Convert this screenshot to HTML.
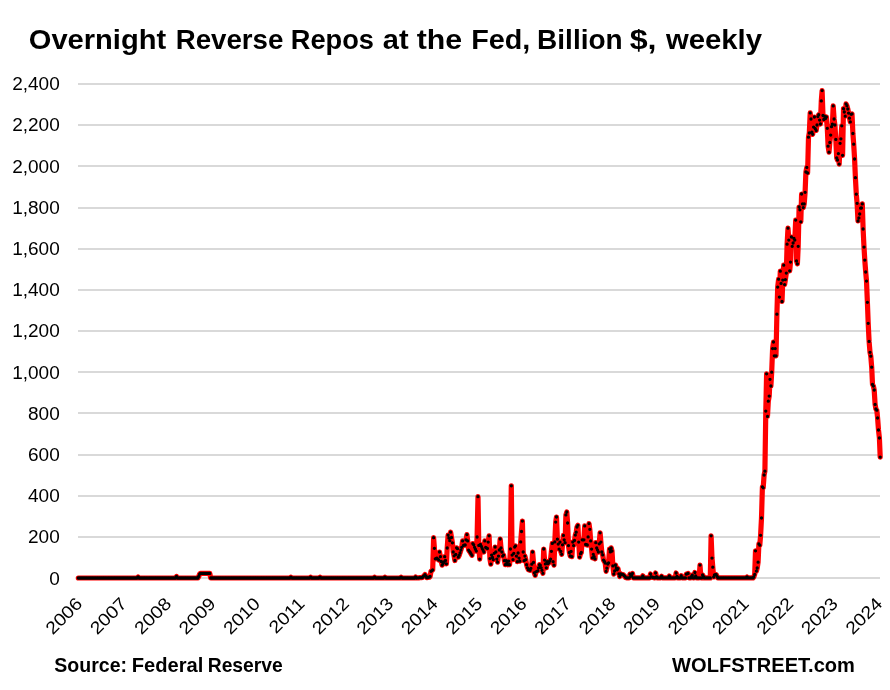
<!DOCTYPE html>
<html lang="en"><head><meta charset="utf-8"><title>Overnight Reverse Repos at the Fed</title>
<style>
html,body{margin:0;padding:0;background:#fff}
svg{display:block}
text{font-family:"Liberation Sans",Arial,sans-serif;fill:#000}
.t{font-weight:bold;font-size:27px}
.b{font-weight:bold;font-size:19.3px}
.y text{font-size:17.6px;text-anchor:end}
.x text{font-size:17.6px;text-anchor:end}
.g rect{fill:#d9d9d9}
</style></head><body>
<svg width="890" height="690" viewBox="0 0 890 690">
<rect width="890" height="690" fill="#fff"/>
<text class="t" y="48.8"><tspan x="28.84" textLength="137.30" lengthAdjust="spacingAndGlyphs">Overnight</tspan> <tspan x="175.70" textLength="107.70" lengthAdjust="spacingAndGlyphs">Reverse</tspan> <tspan x="290.82" textLength="83.20" lengthAdjust="spacingAndGlyphs">Repos</tspan> <tspan x="382.86" textLength="25.78" lengthAdjust="spacingAndGlyphs">at</tspan> <tspan x="416.74" textLength="45.42" lengthAdjust="spacingAndGlyphs">the</tspan> <tspan x="471.20" textLength="59.10" lengthAdjust="spacingAndGlyphs">Fed,</tspan> <tspan x="537.08" textLength="85.60" lengthAdjust="spacingAndGlyphs">Billion</tspan> <tspan x="629.72" textLength="26.84" lengthAdjust="spacingAndGlyphs">$,</tspan> <tspan x="666.00" textLength="96.00" lengthAdjust="spacingAndGlyphs">weekly</tspan></text>
<g class="g"><rect x="78" y="83" width="802" height="2"/><rect x="78" y="124" width="802" height="2"/><rect x="78" y="165" width="802" height="2"/><rect x="78" y="207" width="802" height="2"/><rect x="78" y="248" width="802" height="2"/><rect x="78" y="289" width="802" height="2"/><rect x="78" y="330" width="802" height="2"/><rect x="78" y="371" width="802" height="2"/><rect x="78" y="412" width="802" height="2"/><rect x="78" y="454" width="802" height="2"/><rect x="78" y="495" width="802" height="2"/><rect x="78" y="536" width="802" height="2"/><rect x="78" y="577" width="802" height="2"/></g>
<g class="y"><text transform="translate(59.70 90.30) scale(1.080 1)">2,400</text><text transform="translate(59.70 131.48) scale(1.080 1)">2,200</text><text transform="translate(59.70 172.67) scale(1.080 1)">2,000</text><text transform="translate(59.70 213.85) scale(1.080 1)">1,800</text><text transform="translate(59.70 255.03) scale(1.080 1)">1,600</text><text transform="translate(59.70 296.22) scale(1.080 1)">1,400</text><text transform="translate(59.70 337.40) scale(1.080 1)">1,200</text><text transform="translate(59.70 378.58) scale(1.080 1)">1,000</text><text transform="translate(59.70 419.77) scale(1.080 1)">800</text><text transform="translate(59.70 460.95) scale(1.080 1)">600</text><text transform="translate(59.70 502.13) scale(1.080 1)">400</text><text transform="translate(59.70 543.32) scale(1.080 1)">200</text><text transform="translate(59.70 584.50) scale(1.080 1)">0</text></g>
<g class="x"><text transform="translate(83.45 604.80) rotate(-45) scale(1.110 1)">2006</text><text transform="translate(127.89 604.80) rotate(-45) scale(1.110 1)">2007</text><text transform="translate(172.33 604.80) rotate(-45) scale(1.110 1)">2008</text><text transform="translate(216.77 604.80) rotate(-45) scale(1.110 1)">2009</text><text transform="translate(261.21 604.80) rotate(-45) scale(1.110 1)">2010</text><text transform="translate(305.65 604.80) rotate(-45) scale(1.110 1)">2011</text><text transform="translate(350.09 604.80) rotate(-45) scale(1.110 1)">2012</text><text transform="translate(394.53 604.80) rotate(-45) scale(1.110 1)">2013</text><text transform="translate(438.97 604.80) rotate(-45) scale(1.110 1)">2014</text><text transform="translate(483.41 604.80) rotate(-45) scale(1.110 1)">2015</text><text transform="translate(527.85 604.80) rotate(-45) scale(1.110 1)">2016</text><text transform="translate(572.29 604.80) rotate(-45) scale(1.110 1)">2017</text><text transform="translate(616.73 604.80) rotate(-45) scale(1.110 1)">2018</text><text transform="translate(661.17 604.80) rotate(-45) scale(1.110 1)">2019</text><text transform="translate(705.61 604.80) rotate(-45) scale(1.110 1)">2020</text><text transform="translate(750.05 604.80) rotate(-45) scale(1.110 1)">2021</text><text transform="translate(794.49 604.80) rotate(-45) scale(1.110 1)">2022</text><text transform="translate(838.93 604.80) rotate(-45) scale(1.110 1)">2023</text><text transform="translate(883.37 604.80) rotate(-45) scale(1.110 1)">2024</text></g>
<path d="M78.3 578.0 L79.2 578.0 L80.0 578.0 L80.9 578.0 L81.7 578.0 L82.6 578.0 L83.4 578.0 L84.3 578.0 L85.1 578.0 L86.0 578.0 L86.8 578.0 L87.7 578.0 L88.5 578.0 L89.4 578.0 L90.3 578.0 L91.1 578.0 L92.0 578.0 L92.8 578.0 L93.7 578.0 L94.5 578.0 L95.4 578.0 L96.2 578.0 L97.1 578.0 L97.9 578.0 L98.8 578.0 L99.6 578.0 L100.5 578.0 L101.4 578.0 L102.2 578.0 L103.1 578.0 L103.9 578.0 L104.8 578.0 L105.6 578.0 L106.5 578.0 L107.3 578.0 L108.2 578.0 L109.0 578.0 L109.9 578.0 L110.8 578.0 L111.6 578.0 L112.5 578.0 L113.3 578.0 L114.2 578.0 L115.0 578.0 L115.9 578.0 L116.7 578.0 L117.6 578.0 L118.4 578.0 L119.3 578.0 L120.1 578.0 L121.0 578.0 L121.9 578.0 L122.7 578.0 L123.6 578.0 L124.4 578.0 L125.3 578.0 L126.1 578.0 L127.0 578.0 L127.8 578.0 L128.7 578.0 L129.5 578.0 L130.4 578.0 L131.2 578.0 L132.1 578.0 L133.0 578.0 L133.8 578.0 L134.7 578.0 L135.5 578.0 L136.4 578.0 L137.2 578.0 L138.1 577.0 L138.9 578.0 L139.8 578.0 L140.6 578.0 L141.5 578.0 L142.3 578.0 L143.2 578.0 L144.1 578.0 L144.9 578.0 L145.8 578.0 L146.6 578.0 L147.5 578.0 L148.3 578.0 L149.2 578.0 L150.0 578.0 L150.9 578.0 L151.7 578.0 L152.6 578.0 L153.5 578.0 L154.3 578.0 L155.2 578.0 L156.0 578.0 L156.9 578.0 L157.7 578.0 L158.6 578.0 L159.4 578.0 L160.3 578.0 L161.1 578.0 L162.0 578.0 L162.8 578.0 L163.7 578.0 L164.6 578.0 L165.4 578.0 L166.3 578.0 L167.1 578.0 L168.0 578.0 L168.8 578.0 L169.7 578.0 L170.5 578.0 L171.4 578.0 L172.2 578.0 L173.1 578.0 L173.9 578.0 L174.8 578.0 L175.7 578.0 L176.5 576.4 L177.4 578.0 L178.2 578.0 L179.1 578.0 L179.9 578.0 L180.8 578.0 L181.6 578.0 L182.5 578.0 L183.3 578.0 L184.2 578.0 L185.1 578.0 L185.9 578.0 L186.8 578.0 L187.6 578.0 L188.5 578.0 L189.3 578.0 L190.2 578.0 L191.0 578.0 L191.9 578.0 L192.7 578.0 L193.6 578.0 L194.4 578.0 L195.3 578.0 L196.2 578.0 L197.0 578.0 L197.9 578.0 L198.7 576.5 L199.6 574.2 L200.4 573.4 L201.3 573.4 L202.1 573.4 L203.0 573.4 L203.8 573.4 L204.7 573.4 L205.5 573.4 L206.4 573.4 L207.3 573.4 L208.1 573.4 L209.0 573.4 L209.8 573.4 L210.7 578.0 L211.5 578.0 L212.4 578.0 L213.2 578.0 L214.1 578.0 L214.9 578.0 L215.8 578.0 L216.6 578.0 L217.5 578.0 L218.4 578.0 L219.2 578.0 L220.1 578.0 L220.9 578.0 L221.8 578.0 L222.6 578.0 L223.5 578.0 L224.3 578.0 L225.2 578.0 L226.0 578.0 L226.9 578.0 L227.8 578.0 L228.6 578.0 L229.5 578.0 L230.3 578.0 L231.2 578.0 L232.0 578.0 L232.9 578.0 L233.7 578.0 L234.6 578.0 L235.4 578.0 L236.3 578.0 L237.1 578.0 L238.0 578.0 L238.9 578.0 L239.7 578.0 L240.6 578.0 L241.4 578.0 L242.3 578.0 L243.1 578.0 L244.0 578.0 L244.8 578.0 L245.7 578.0 L246.5 578.0 L247.4 578.0 L248.2 578.0 L249.1 578.0 L250.0 578.0 L250.8 578.0 L251.7 578.0 L252.5 578.0 L253.4 578.0 L254.2 578.0 L255.1 578.0 L255.9 578.0 L256.8 578.0 L257.6 578.0 L258.5 578.0 L259.3 578.0 L260.2 578.0 L261.1 578.0 L261.9 578.0 L262.8 578.0 L263.6 578.0 L264.5 578.0 L265.3 578.0 L266.2 578.0 L267.0 578.0 L267.9 578.0 L268.7 578.0 L269.6 578.0 L270.4 578.0 L271.3 578.0 L272.2 578.0 L273.0 578.0 L273.9 578.0 L274.7 578.0 L275.6 578.0 L276.4 578.0 L277.3 578.0 L278.1 578.0 L279.0 578.0 L279.8 578.0 L280.7 578.0 L281.6 578.0 L282.4 578.0 L283.3 578.0 L284.1 578.0 L285.0 578.0 L285.8 578.0 L286.7 578.0 L287.5 578.0 L288.4 578.0 L289.2 578.0 L290.1 578.0 L290.9 577.2 L291.8 578.0 L292.7 578.0 L293.5 578.0 L294.4 578.0 L295.2 578.0 L296.1 578.0 L296.9 578.0 L297.8 578.0 L298.6 578.0 L299.5 578.0 L300.3 578.0 L301.2 578.0 L302.0 578.0 L302.9 578.0 L303.8 578.0 L304.6 578.0 L305.5 578.0 L306.3 578.0 L307.2 578.0 L308.0 578.0 L308.9 578.0 L309.7 578.0 L310.6 577.2 L311.4 578.0 L312.3 578.0 L313.1 578.0 L314.0 578.0 L314.9 578.0 L315.7 578.0 L316.6 578.0 L317.4 578.0 L318.3 578.0 L319.1 578.0 L320.0 577.2 L320.8 578.0 L321.7 578.0 L322.5 578.0 L323.4 578.0 L324.3 578.0 L325.1 578.0 L326.0 578.0 L326.8 578.0 L327.7 578.0 L328.5 578.0 L329.4 578.0 L330.2 578.0 L331.1 578.0 L331.9 578.0 L332.8 578.0 L333.6 578.0 L334.5 578.0 L335.4 578.0 L336.2 578.0 L337.1 578.0 L337.9 578.0 L338.8 578.0 L339.6 578.0 L340.5 578.0 L341.3 578.0 L342.2 578.0 L343.0 578.0 L343.9 578.0 L344.7 578.0 L345.6 578.0 L346.5 578.0 L347.3 578.0 L348.2 578.0 L349.0 578.0 L349.9 578.0 L350.7 578.0 L351.6 578.0 L352.4 578.0 L353.3 578.0 L354.1 578.0 L355.0 578.0 L355.9 578.0 L356.7 578.0 L357.6 578.0 L358.4 578.0 L359.3 578.0 L360.1 578.0 L361.0 578.0 L361.8 578.0 L362.7 578.0 L363.5 578.0 L364.4 578.0 L365.2 578.0 L366.1 578.0 L367.0 578.0 L367.8 578.0 L368.7 578.0 L369.5 578.0 L370.4 578.0 L371.2 578.0 L372.1 578.0 L372.9 578.0 L373.8 578.0 L374.6 577.2 L375.5 578.0 L376.3 578.0 L377.2 578.0 L378.1 578.0 L378.9 578.0 L379.8 578.0 L380.6 578.0 L381.5 578.0 L382.3 578.0 L383.2 578.0 L384.0 578.0 L384.9 577.2 L385.7 578.0 L386.6 578.0 L387.4 578.0 L388.3 578.0 L389.2 578.0 L390.0 578.0 L390.9 578.0 L391.7 578.0 L392.6 578.0 L393.4 578.0 L394.3 578.0 L395.1 578.0 L396.0 578.0 L396.8 578.0 L397.7 578.0 L398.6 578.0 L399.4 578.0 L400.3 578.0 L401.1 577.2 L402.0 578.0 L402.8 578.0 L403.7 578.0 L404.5 578.0 L405.4 578.0 L406.2 578.0 L407.1 578.0 L407.9 578.0 L408.8 578.0 L409.7 578.0 L410.5 578.0 L411.4 578.0 L412.2 578.0 L413.1 578.0 L413.9 578.0 L414.8 578.0 L415.6 577.0 L416.5 578.0 L417.3 577.9 L418.2 577.9 L419.0 577.8 L419.9 577.7 L420.8 577.7 L421.6 577.6 L422.5 577.5 L423.3 576.5 L424.2 575.6 L425.0 574.6 L425.9 576.1 L426.7 577.7 L427.6 577.5 L428.4 577.3 L429.3 577.2 L430.1 576.5 L431.0 571.3 L431.9 570.6 L432.7 569.9 L433.6 537.7 L434.4 548.3 L435.3 558.8 L436.1 558.5 L437.0 558.2 L437.8 559.1 L438.7 560.0 L439.5 552.0 L440.4 556.7 L441.2 561.5 L442.1 565.2 L443.0 563.6 L443.8 561.9 L444.7 556.7 L445.5 560.5 L446.4 563.8 L447.2 548.0 L448.1 535.1 L448.9 537.9 L449.8 540.7 L450.6 532.2 L451.5 537.5 L452.4 542.8 L453.2 552.0 L454.1 555.8 L454.9 560.5 L455.8 554.4 L456.6 547.8 L457.5 548.7 L458.3 557.2 L459.2 555.3 L460.0 553.0 L460.9 550.1 L461.7 547.3 L462.6 540.9 L463.5 545.4 L464.3 545.2 L465.2 545.0 L466.0 539.8 L466.9 534.6 L467.7 540.9 L468.6 550.1 L469.4 551.3 L470.3 552.5 L471.1 553.9 L472.0 555.3 L472.8 543.6 L473.7 544.7 L474.6 547.3 L475.4 549.2 L476.3 551.1 L477.1 537.0 L478.0 496.7 L478.8 545.4 L479.7 559.1 L480.5 544.4 L481.4 546.4 L482.2 548.5 L483.1 550.3 L483.9 552.0 L484.8 540.9 L485.7 547.5 L486.5 548.0 L487.4 548.5 L488.2 542.1 L489.1 535.8 L489.9 558.6 L490.8 564.2 L491.6 555.1 L492.5 557.4 L493.3 559.6 L494.2 553.3 L495.1 547.0 L495.9 552.0 L496.8 559.1 L497.6 562.2 L498.5 556.1 L499.3 550.0 L500.2 539.0 L501.0 548.0 L501.9 552.0 L502.7 556.1 L503.6 555.1 L504.4 560.7 L505.3 564.7 L506.2 560.7 L507.0 562.7 L507.9 564.7 L508.7 561.2 L509.6 564.7 L510.4 549.0 L511.3 485.8 L512.1 555.1 L513.0 559.6 L513.8 553.3 L514.7 547.0 L515.5 545.9 L516.4 556.1 L517.3 561.7 L518.1 553.0 L519.0 558.1 L519.8 561.2 L520.7 541.9 L521.5 531.5 L522.4 521.1 L523.2 552.0 L524.1 560.7 L524.9 556.1 L525.8 559.6 L526.6 564.7 L527.5 567.8 L528.4 569.8 L529.2 570.0 L530.1 570.3 L530.9 568.3 L531.8 564.2 L532.6 552.0 L533.5 562.4 L534.3 572.8 L535.2 575.4 L536.0 571.8 L536.9 571.3 L537.8 570.8 L538.6 567.8 L539.5 564.7 L540.3 565.2 L541.2 567.8 L542.0 570.3 L542.9 573.3 L543.7 549.0 L544.6 560.1 L545.4 563.9 L546.3 567.8 L547.1 561.7 L548.0 563.7 L548.9 562.7 L549.7 560.9 L550.6 559.1 L551.4 551.3 L552.3 543.4 L553.1 561.7 L554.0 565.2 L554.8 541.9 L555.7 522.1 L556.5 517.0 L557.4 539.2 L558.2 544.1 L559.1 549.1 L560.0 542.1 L560.8 551.4 L561.7 554.3 L562.5 544.8 L563.4 535.4 L564.2 539.8 L565.1 542.7 L565.9 514.9 L566.8 512.0 L567.6 523.0 L568.5 545.6 L569.4 552.5 L570.2 556.0 L571.1 551.4 L571.9 556.6 L572.8 542.1 L573.6 545.6 L574.5 540.4 L575.3 535.1 L576.2 532.2 L577.0 527.0 L577.9 525.3 L578.7 542.1 L579.6 557.2 L580.5 553.7 L581.3 552.5 L582.2 539.8 L583.0 539.8 L583.9 539.8 L584.7 525.9 L585.6 544.4 L586.4 544.7 L587.3 545.0 L588.1 536.9 L589.0 523.6 L589.8 529.3 L590.7 540.9 L591.6 549.1 L592.4 557.8 L593.3 554.3 L594.1 556.6 L595.0 558.9 L595.8 542.7 L596.7 547.9 L597.5 549.9 L598.4 552.0 L599.2 543.8 L600.1 532.8 L600.9 542.1 L601.8 552.0 L602.7 554.9 L603.5 560.1 L604.4 561.5 L605.2 563.0 L606.1 571.3 L606.9 568.2 L607.8 564.1 L608.6 562.8 L609.5 549.1 L610.3 551.9 L611.2 547.9 L612.0 551.0 L612.9 565.9 L613.8 574.1 L614.6 571.0 L615.5 565.0 L616.3 568.0 L617.2 569.8 L618.0 568.6 L618.9 573.8 L619.7 576.5 L620.6 573.8 L621.4 574.1 L622.3 574.4 L623.2 574.7 L624.0 575.5 L624.9 576.5 L625.7 577.6 L626.6 577.9 L627.4 577.9 L628.3 577.9 L629.1 577.9 L630.0 574.2 L630.8 576.3 L631.7 575.6 L632.5 573.4 L633.4 577.9 L634.3 577.9 L635.1 577.9 L636.0 577.9 L636.8 577.9 L637.7 577.9 L638.5 577.9 L639.4 577.9 L640.2 577.9 L641.1 577.9 L641.9 577.9 L642.8 575.8 L643.6 577.9 L644.5 577.9 L645.4 577.9 L646.2 577.9 L647.1 577.9 L647.9 577.9 L648.8 577.9 L649.6 577.9 L650.5 574.0 L651.3 577.0 L652.2 577.2 L653.0 577.5 L653.9 577.7 L654.7 577.9 L655.6 573.0 L656.5 576.6 L657.3 577.9 L658.2 577.9 L659.0 577.9 L659.9 577.9 L660.7 577.9 L661.6 576.2 L662.4 577.9 L663.3 577.9 L664.1 577.9 L665.0 577.9 L665.9 577.9 L666.7 577.9 L667.6 577.9 L668.4 577.9 L669.3 576.0 L670.1 577.9 L671.0 577.9 L671.8 577.9 L672.7 577.9 L673.5 577.9 L674.4 577.9 L675.2 577.9 L676.1 573.0 L677.0 576.5 L677.8 577.9 L678.7 577.9 L679.5 577.9 L680.4 577.9 L681.2 575.6 L682.1 577.9 L682.9 577.9 L683.8 577.9 L684.6 577.9 L685.5 577.9 L686.3 574.2 L687.2 573.8 L688.1 573.4 L688.9 577.9 L689.8 577.9 L690.6 577.9 L691.5 576.5 L692.3 575.2 L693.2 577.9 L694.0 577.9 L694.9 572.5 L695.7 576.0 L696.6 577.9 L697.4 577.9 L698.3 577.9 L699.2 577.9 L700.0 565.1 L700.9 577.9 L701.7 577.9 L702.6 574.9 L703.4 576.4 L704.3 577.9 L705.1 577.9 L706.0 577.9 L706.8 577.9 L707.7 577.9 L708.6 577.9 L709.4 577.9 L710.3 577.9 L711.1 535.8 L712.0 558.1 L712.8 567.2 L713.7 577.0 L714.5 574.8 L715.4 574.6 L716.2 574.5 L717.1 576.5 L717.9 577.9 L718.8 577.9 L719.7 577.9 L720.5 577.9 L721.4 577.9 L722.2 577.9 L723.1 577.9 L723.9 577.9 L724.8 577.9 L725.6 577.9 L726.5 577.9 L727.3 577.9 L728.2 577.9 L729.0 577.9 L729.9 577.9 L730.8 577.9 L731.6 577.9 L732.5 577.9 L733.3 577.9 L734.2 577.9 L735.0 577.9 L735.9 577.9 L736.7 577.9 L737.6 577.9 L738.4 577.9 L739.3 577.9 L740.1 577.9 L741.0 577.9 L741.9 577.9 L742.7 577.9 L743.6 577.9 L744.4 577.9 L745.3 577.9 L746.1 577.9 L747.0 577.0 L747.8 577.9 L748.7 577.9 L749.5 577.9 L750.4 577.9 L751.3 577.9 L752.1 577.9 L753.0 577.9 L753.8 577.0 L754.7 574.4 L755.5 550.8 L756.4 571.1 L757.2 568.0 L758.1 562.2 L758.9 543.9 L759.8 545.2 L760.6 535.3 L761.5 518.0 L762.4 486.8 L763.2 487.8 L764.1 475.0 L764.9 471.2 L765.8 411.1 L766.6 373.8 L767.5 416.4 L768.3 401.2 L769.2 396.1 L770.0 379.3 L770.9 386.0 L771.7 372.2 L772.6 348.6 L773.5 342.0 L774.3 355.8 L775.2 348.6 L776.0 355.8 L776.9 314.2 L777.7 287.1 L778.6 279.2 L779.4 297.1 L780.3 271.2 L781.1 283.4 L782.0 301.5 L782.8 280.1 L783.7 265.2 L784.6 284.6 L785.4 279.6 L786.3 273.1 L787.1 244.2 L788.0 228.2 L788.8 240.1 L789.7 270.8 L790.5 262.1 L791.4 237.0 L792.2 246.3 L793.1 243.0 L794.0 238.5 L794.8 240.1 L795.7 220.1 L796.5 260.9 L797.4 263.8 L798.2 246.3 L799.1 207.0 L799.9 209.8 L800.8 221.8 L801.6 194.0 L802.5 203.9 L803.3 207.6 L804.2 203.9 L805.1 192.3 L805.9 172.0 L806.8 167.4 L807.6 173.0 L808.5 137.2 L809.3 133.0 L810.2 112.9 L811.0 119.0 L811.9 132.2 L812.7 134.3 L813.6 127.1 L814.4 117.0 L815.3 128.7 L816.2 130.4 L817.0 125.0 L817.9 116.6 L818.7 114.7 L819.6 120.1 L820.4 124.0 L821.3 100.9 L822.1 90.6 L823.0 115.5 L823.8 119.5 L824.7 116.4 L825.5 118.6 L826.4 117.0 L827.3 128.3 L828.1 146.2 L829.0 152.2 L829.8 142.5 L830.7 135.1 L831.5 126.7 L832.4 124.2 L833.2 105.9 L834.1 119.0 L834.9 125.0 L835.8 139.4 L836.7 157.8 L837.5 160.0 L838.4 153.6 L839.2 164.1 L840.1 143.3 L840.9 138.8 L841.8 125.8 L842.6 155.3 L843.5 108.7 L844.3 112.0 L845.2 116.2 L846.0 103.8 L846.9 105.7 L847.8 109.0 L848.6 113.1 L849.5 118.2 L850.3 121.9 L851.2 114.3 L852.0 113.9 L852.9 133.5 L853.7 144.2 L854.6 159.0 L855.4 177.7 L856.3 194.2 L857.1 203.3 L858.0 221.0 L858.9 217.9 L859.7 214.0 L860.6 208.2 L861.4 208.0 L862.3 203.9 L863.1 229.0 L864.0 247.1 L864.8 260.1 L865.7 272.0 L866.5 281.1 L867.4 302.3 L868.2 323.3 L869.1 341.4 L870.0 352.3 L870.8 356.2 L871.7 367.2 L872.5 384.4 L873.4 386.1 L874.2 390.0 L875.1 404.4 L875.9 409.0 L876.8 410.2 L877.6 418.0 L878.5 430.0 L879.4 438.0 L880.2 457.1" fill="none" stroke="#ff0000" stroke-width="5.2" stroke-linejoin="round" stroke-linecap="round"/>
<path d="M78.3 578.0h0M79.2 578.0h0M80.0 578.0h0M80.9 578.0h0M81.7 578.0h0M82.6 578.0h0M83.4 578.0h0M84.3 578.0h0M85.1 578.0h0M86.0 578.0h0M86.8 578.0h0M87.7 578.0h0M88.5 578.0h0M89.4 578.0h0M90.3 578.0h0M91.1 578.0h0M92.0 578.0h0M92.8 578.0h0M93.7 578.0h0M94.5 578.0h0M95.4 578.0h0M96.2 578.0h0M97.1 578.0h0M97.9 578.0h0M98.8 578.0h0M99.6 578.0h0M100.5 578.0h0M101.4 578.0h0M102.2 578.0h0M103.1 578.0h0M103.9 578.0h0M104.8 578.0h0M105.6 578.0h0M106.5 578.0h0M107.3 578.0h0M108.2 578.0h0M109.0 578.0h0M109.9 578.0h0M110.8 578.0h0M111.6 578.0h0M112.5 578.0h0M113.3 578.0h0M114.2 578.0h0M115.0 578.0h0M115.9 578.0h0M116.7 578.0h0M117.6 578.0h0M118.4 578.0h0M119.3 578.0h0M120.1 578.0h0M121.0 578.0h0M121.9 578.0h0M122.7 578.0h0M123.6 578.0h0M124.4 578.0h0M125.3 578.0h0M126.1 578.0h0M127.0 578.0h0M127.8 578.0h0M128.7 578.0h0M129.5 578.0h0M130.4 578.0h0M131.2 578.0h0M132.1 578.0h0M133.0 578.0h0M133.8 578.0h0M134.7 578.0h0M135.5 578.0h0M136.4 578.0h0M137.2 578.0h0M138.1 577.0h0M138.9 578.0h0M139.8 578.0h0M140.6 578.0h0M141.5 578.0h0M142.3 578.0h0M143.2 578.0h0M144.1 578.0h0M144.9 578.0h0M145.8 578.0h0M146.6 578.0h0M147.5 578.0h0M148.3 578.0h0M149.2 578.0h0M150.0 578.0h0M150.9 578.0h0M151.7 578.0h0M152.6 578.0h0M153.5 578.0h0M154.3 578.0h0M155.2 578.0h0M156.0 578.0h0M156.9 578.0h0M157.7 578.0h0M158.6 578.0h0M159.4 578.0h0M160.3 578.0h0M161.1 578.0h0M162.0 578.0h0M162.8 578.0h0M163.7 578.0h0M164.6 578.0h0M165.4 578.0h0M166.3 578.0h0M167.1 578.0h0M168.0 578.0h0M168.8 578.0h0M169.7 578.0h0M170.5 578.0h0M171.4 578.0h0M172.2 578.0h0M173.1 578.0h0M173.9 578.0h0M174.8 578.0h0M175.7 578.0h0M176.5 576.4h0M177.4 578.0h0M178.2 578.0h0M179.1 578.0h0M179.9 578.0h0M180.8 578.0h0M181.6 578.0h0M182.5 578.0h0M183.3 578.0h0M184.2 578.0h0M185.1 578.0h0M185.9 578.0h0M186.8 578.0h0M187.6 578.0h0M188.5 578.0h0M189.3 578.0h0M190.2 578.0h0M191.0 578.0h0M191.9 578.0h0M192.7 578.0h0M193.6 578.0h0M194.4 578.0h0M195.3 578.0h0M196.2 578.0h0M197.0 578.0h0M197.9 578.0h0M198.7 576.5h0M199.6 574.2h0M200.4 573.4h0M201.3 573.4h0M202.1 573.4h0M203.0 573.4h0M203.8 573.4h0M204.7 573.4h0M205.5 573.4h0M206.4 573.4h0M207.3 573.4h0M208.1 573.4h0M209.0 573.4h0M209.8 573.4h0M210.7 578.0h0M211.5 578.0h0M212.4 578.0h0M213.2 578.0h0M214.1 578.0h0M214.9 578.0h0M215.8 578.0h0M216.6 578.0h0M217.5 578.0h0M218.4 578.0h0M219.2 578.0h0M220.1 578.0h0M220.9 578.0h0M221.8 578.0h0M222.6 578.0h0M223.5 578.0h0M224.3 578.0h0M225.2 578.0h0M226.0 578.0h0M226.9 578.0h0M227.8 578.0h0M228.6 578.0h0M229.5 578.0h0M230.3 578.0h0M231.2 578.0h0M232.0 578.0h0M232.9 578.0h0M233.7 578.0h0M234.6 578.0h0M235.4 578.0h0M236.3 578.0h0M237.1 578.0h0M238.0 578.0h0M238.9 578.0h0M239.7 578.0h0M240.6 578.0h0M241.4 578.0h0M242.3 578.0h0M243.1 578.0h0M244.0 578.0h0M244.8 578.0h0M245.7 578.0h0M246.5 578.0h0M247.4 578.0h0M248.2 578.0h0M249.1 578.0h0M250.0 578.0h0M250.8 578.0h0M251.7 578.0h0M252.5 578.0h0M253.4 578.0h0M254.2 578.0h0M255.1 578.0h0M255.9 578.0h0M256.8 578.0h0M257.6 578.0h0M258.5 578.0h0M259.3 578.0h0M260.2 578.0h0M261.1 578.0h0M261.9 578.0h0M262.8 578.0h0M263.6 578.0h0M264.5 578.0h0M265.3 578.0h0M266.2 578.0h0M267.0 578.0h0M267.9 578.0h0M268.7 578.0h0M269.6 578.0h0M270.4 578.0h0M271.3 578.0h0M272.2 578.0h0M273.0 578.0h0M273.9 578.0h0M274.7 578.0h0M275.6 578.0h0M276.4 578.0h0M277.3 578.0h0M278.1 578.0h0M279.0 578.0h0M279.8 578.0h0M280.7 578.0h0M281.6 578.0h0M282.4 578.0h0M283.3 578.0h0M284.1 578.0h0M285.0 578.0h0M285.8 578.0h0M286.7 578.0h0M287.5 578.0h0M288.4 578.0h0M289.2 578.0h0M290.1 578.0h0M290.9 577.2h0M291.8 578.0h0M292.7 578.0h0M293.5 578.0h0M294.4 578.0h0M295.2 578.0h0M296.1 578.0h0M296.9 578.0h0M297.8 578.0h0M298.6 578.0h0M299.5 578.0h0M300.3 578.0h0M301.2 578.0h0M302.0 578.0h0M302.9 578.0h0M303.8 578.0h0M304.6 578.0h0M305.5 578.0h0M306.3 578.0h0M307.2 578.0h0M308.0 578.0h0M308.9 578.0h0M309.7 578.0h0M310.6 577.2h0M311.4 578.0h0M312.3 578.0h0M313.1 578.0h0M314.0 578.0h0M314.9 578.0h0M315.7 578.0h0M316.6 578.0h0M317.4 578.0h0M318.3 578.0h0M319.1 578.0h0M320.0 577.2h0M320.8 578.0h0M321.7 578.0h0M322.5 578.0h0M323.4 578.0h0M324.3 578.0h0M325.1 578.0h0M326.0 578.0h0M326.8 578.0h0M327.7 578.0h0M328.5 578.0h0M329.4 578.0h0M330.2 578.0h0M331.1 578.0h0M331.9 578.0h0M332.8 578.0h0M333.6 578.0h0M334.5 578.0h0M335.4 578.0h0M336.2 578.0h0M337.1 578.0h0M337.9 578.0h0M338.8 578.0h0M339.6 578.0h0M340.5 578.0h0M341.3 578.0h0M342.2 578.0h0M343.0 578.0h0M343.9 578.0h0M344.7 578.0h0M345.6 578.0h0M346.5 578.0h0M347.3 578.0h0M348.2 578.0h0M349.0 578.0h0M349.9 578.0h0M350.7 578.0h0M351.6 578.0h0M352.4 578.0h0M353.3 578.0h0M354.1 578.0h0M355.0 578.0h0M355.9 578.0h0M356.7 578.0h0M357.6 578.0h0M358.4 578.0h0M359.3 578.0h0M360.1 578.0h0M361.0 578.0h0M361.8 578.0h0M362.7 578.0h0M363.5 578.0h0M364.4 578.0h0M365.2 578.0h0M366.1 578.0h0M367.0 578.0h0M367.8 578.0h0M368.7 578.0h0M369.5 578.0h0M370.4 578.0h0M371.2 578.0h0M372.1 578.0h0M372.9 578.0h0M373.8 578.0h0M374.6 577.2h0M375.5 578.0h0M376.3 578.0h0M377.2 578.0h0M378.1 578.0h0M378.9 578.0h0M379.8 578.0h0M380.6 578.0h0M381.5 578.0h0M382.3 578.0h0M383.2 578.0h0M384.0 578.0h0M384.9 577.2h0M385.7 578.0h0M386.6 578.0h0M387.4 578.0h0M388.3 578.0h0M389.2 578.0h0M390.0 578.0h0M390.9 578.0h0M391.7 578.0h0M392.6 578.0h0M393.4 578.0h0M394.3 578.0h0M395.1 578.0h0M396.0 578.0h0M396.8 578.0h0M397.7 578.0h0M398.6 578.0h0M399.4 578.0h0M400.3 578.0h0M401.1 577.2h0M402.0 578.0h0M402.8 578.0h0M403.7 578.0h0M404.5 578.0h0M405.4 578.0h0M406.2 578.0h0M407.1 578.0h0M407.9 578.0h0M408.8 578.0h0M409.7 578.0h0M410.5 578.0h0M411.4 578.0h0M412.2 578.0h0M413.1 578.0h0M413.9 578.0h0M414.8 578.0h0M415.6 577.0h0M416.5 578.0h0M417.3 577.9h0M418.2 577.9h0M419.0 577.8h0M419.9 577.7h0M420.8 577.7h0M421.6 577.6h0M422.5 577.5h0M423.3 576.5h0M424.2 575.6h0M425.0 574.6h0M425.9 576.1h0M426.7 577.7h0M427.6 577.5h0M428.4 577.3h0M429.3 577.2h0M430.1 576.5h0M431.0 571.3h0M431.9 570.6h0M432.7 569.9h0M433.6 537.7h0M434.4 548.3h0M435.3 558.8h0M436.1 558.5h0M437.0 558.2h0M437.8 559.1h0M438.7 560.0h0M439.5 552.0h0M440.4 556.7h0M441.2 561.5h0M442.1 565.2h0M443.0 563.6h0M443.8 561.9h0M444.7 556.7h0M445.5 560.5h0M446.4 563.8h0M447.2 548.0h0M448.1 535.1h0M448.9 537.9h0M449.8 540.7h0M450.6 532.2h0M451.5 537.5h0M452.4 542.8h0M453.2 552.0h0M454.1 555.8h0M454.9 560.5h0M455.8 554.4h0M456.6 547.8h0M457.5 548.7h0M458.3 557.2h0M459.2 555.3h0M460.0 553.0h0M460.9 550.1h0M461.7 547.3h0M462.6 540.9h0M463.5 545.4h0M464.3 545.2h0M465.2 545.0h0M466.0 539.8h0M466.9 534.6h0M467.7 540.9h0M468.6 550.1h0M469.4 551.3h0M470.3 552.5h0M471.1 553.9h0M472.0 555.3h0M472.8 543.6h0M473.7 544.7h0M474.6 547.3h0M475.4 549.2h0M476.3 551.1h0M477.1 537.0h0M478.0 496.7h0M478.8 545.4h0M479.7 559.1h0M480.5 544.4h0M481.4 546.4h0M482.2 548.5h0M483.1 550.3h0M483.9 552.0h0M484.8 540.9h0M485.7 547.5h0M486.5 548.0h0M487.4 548.5h0M488.2 542.1h0M489.1 535.8h0M489.9 558.6h0M490.8 564.2h0M491.6 555.1h0M492.5 557.4h0M493.3 559.6h0M494.2 553.3h0M495.1 547.0h0M495.9 552.0h0M496.8 559.1h0M497.6 562.2h0M498.5 556.1h0M499.3 550.0h0M500.2 539.0h0M501.0 548.0h0M501.9 552.0h0M502.7 556.1h0M503.6 555.1h0M504.4 560.7h0M505.3 564.7h0M506.2 560.7h0M507.0 562.7h0M507.9 564.7h0M508.7 561.2h0M509.6 564.7h0M510.4 549.0h0M511.3 485.8h0M512.1 555.1h0M513.0 559.6h0M513.8 553.3h0M514.7 547.0h0M515.5 545.9h0M516.4 556.1h0M517.3 561.7h0M518.1 553.0h0M519.0 558.1h0M519.8 561.2h0M520.7 541.9h0M521.5 531.5h0M522.4 521.1h0M523.2 552.0h0M524.1 560.7h0M524.9 556.1h0M525.8 559.6h0M526.6 564.7h0M527.5 567.8h0M528.4 569.8h0M529.2 570.0h0M530.1 570.3h0M530.9 568.3h0M531.8 564.2h0M532.6 552.0h0M533.5 562.4h0M534.3 572.8h0M535.2 575.4h0M536.0 571.8h0M536.9 571.3h0M537.8 570.8h0M538.6 567.8h0M539.5 564.7h0M540.3 565.2h0M541.2 567.8h0M542.0 570.3h0M542.9 573.3h0M543.7 549.0h0M544.6 560.1h0M545.4 563.9h0M546.3 567.8h0M547.1 561.7h0M548.0 563.7h0M548.9 562.7h0M549.7 560.9h0M550.6 559.1h0M551.4 551.3h0M552.3 543.4h0M553.1 561.7h0M554.0 565.2h0M554.8 541.9h0M555.7 522.1h0M556.5 517.0h0M557.4 539.2h0M558.2 544.1h0M559.1 549.1h0M560.0 542.1h0M560.8 551.4h0M561.7 554.3h0M562.5 544.8h0M563.4 535.4h0M564.2 539.8h0M565.1 542.7h0M565.9 514.9h0M566.8 512.0h0M567.6 523.0h0M568.5 545.6h0M569.4 552.5h0M570.2 556.0h0M571.1 551.4h0M571.9 556.6h0M572.8 542.1h0M573.6 545.6h0M574.5 540.4h0M575.3 535.1h0M576.2 532.2h0M577.0 527.0h0M577.9 525.3h0M578.7 542.1h0M579.6 557.2h0M580.5 553.7h0M581.3 552.5h0M582.2 539.8h0M583.0 539.8h0M583.9 539.8h0M584.7 525.9h0M585.6 544.4h0M586.4 544.7h0M587.3 545.0h0M588.1 536.9h0M589.0 523.6h0M589.8 529.3h0M590.7 540.9h0M591.6 549.1h0M592.4 557.8h0M593.3 554.3h0M594.1 556.6h0M595.0 558.9h0M595.8 542.7h0M596.7 547.9h0M597.5 549.9h0M598.4 552.0h0M599.2 543.8h0M600.1 532.8h0M600.9 542.1h0M601.8 552.0h0M602.7 554.9h0M603.5 560.1h0M604.4 561.5h0M605.2 563.0h0M606.1 571.3h0M606.9 568.2h0M607.8 564.1h0M608.6 562.8h0M609.5 549.1h0M610.3 551.9h0M611.2 547.9h0M612.0 551.0h0M612.9 565.9h0M613.8 574.1h0M614.6 571.0h0M615.5 565.0h0M616.3 568.0h0M617.2 569.8h0M618.0 568.6h0M618.9 573.8h0M619.7 576.5h0M620.6 573.8h0M621.4 574.1h0M622.3 574.4h0M623.2 574.7h0M624.0 575.5h0M624.9 576.5h0M625.7 577.6h0M626.6 577.9h0M627.4 577.9h0M628.3 577.9h0M629.1 577.9h0M630.0 574.2h0M630.8 576.3h0M631.7 575.6h0M632.5 573.4h0M633.4 577.9h0M634.3 577.9h0M635.1 577.9h0M636.0 577.9h0M636.8 577.9h0M637.7 577.9h0M638.5 577.9h0M639.4 577.9h0M640.2 577.9h0M641.1 577.9h0M641.9 577.9h0M642.8 575.8h0M643.6 577.9h0M644.5 577.9h0M645.4 577.9h0M646.2 577.9h0M647.1 577.9h0M647.9 577.9h0M648.8 577.9h0M649.6 577.9h0M650.5 574.0h0M651.3 577.0h0M652.2 577.2h0M653.0 577.5h0M653.9 577.7h0M654.7 577.9h0M655.6 573.0h0M656.5 576.6h0M657.3 577.9h0M658.2 577.9h0M659.0 577.9h0M659.9 577.9h0M660.7 577.9h0M661.6 576.2h0M662.4 577.9h0M663.3 577.9h0M664.1 577.9h0M665.0 577.9h0M665.9 577.9h0M666.7 577.9h0M667.6 577.9h0M668.4 577.9h0M669.3 576.0h0M670.1 577.9h0M671.0 577.9h0M671.8 577.9h0M672.7 577.9h0M673.5 577.9h0M674.4 577.9h0M675.2 577.9h0M676.1 573.0h0M677.0 576.5h0M677.8 577.9h0M678.7 577.9h0M679.5 577.9h0M680.4 577.9h0M681.2 575.6h0M682.1 577.9h0M682.9 577.9h0M683.8 577.9h0M684.6 577.9h0M685.5 577.9h0M686.3 574.2h0M687.2 573.8h0M688.1 573.4h0M688.9 577.9h0M689.8 577.9h0M690.6 577.9h0M691.5 576.5h0M692.3 575.2h0M693.2 577.9h0M694.0 577.9h0M694.9 572.5h0M695.7 576.0h0M696.6 577.9h0M697.4 577.9h0M698.3 577.9h0M699.2 577.9h0M700.0 565.1h0M700.9 577.9h0M701.7 577.9h0M702.6 574.9h0M703.4 576.4h0M704.3 577.9h0M705.1 577.9h0M706.0 577.9h0M706.8 577.9h0M707.7 577.9h0M708.6 577.9h0M709.4 577.9h0M710.3 577.9h0M711.1 535.8h0M712.0 558.1h0M712.8 567.2h0M713.7 577.0h0M714.5 574.8h0M715.4 574.6h0M716.2 574.5h0M717.1 576.5h0M717.9 577.9h0M718.8 577.9h0M719.7 577.9h0M720.5 577.9h0M721.4 577.9h0M722.2 577.9h0M723.1 577.9h0M723.9 577.9h0M724.8 577.9h0M725.6 577.9h0M726.5 577.9h0M727.3 577.9h0M728.2 577.9h0M729.0 577.9h0M729.9 577.9h0M730.8 577.9h0M731.6 577.9h0M732.5 577.9h0M733.3 577.9h0M734.2 577.9h0M735.0 577.9h0M735.9 577.9h0M736.7 577.9h0M737.6 577.9h0M738.4 577.9h0M739.3 577.9h0M740.1 577.9h0M741.0 577.9h0M741.9 577.9h0M742.7 577.9h0M743.6 577.9h0M744.4 577.9h0M745.3 577.9h0M746.1 577.9h0M747.0 577.0h0M747.8 577.9h0M748.7 577.9h0M749.5 577.9h0M750.4 577.9h0M751.3 577.9h0M752.1 577.9h0M753.0 577.9h0M753.8 577.0h0M754.7 574.4h0M755.5 550.8h0M756.4 571.1h0M757.2 568.0h0M758.1 562.2h0M758.9 543.9h0M759.8 545.2h0M760.6 535.3h0M761.5 518.0h0M762.4 486.8h0M763.2 487.8h0M764.1 475.0h0M764.9 471.2h0M765.8 411.1h0M766.6 373.8h0M767.5 416.4h0M768.3 401.2h0M769.2 396.1h0M770.0 379.3h0M770.9 386.0h0M771.7 372.2h0M772.6 348.6h0M773.5 342.0h0M774.3 355.8h0M775.2 348.6h0M776.0 355.8h0M776.9 314.2h0M777.7 287.1h0M778.6 279.2h0M779.4 297.1h0M780.3 271.2h0M781.1 283.4h0M782.0 301.5h0M782.8 280.1h0M783.7 265.2h0M784.6 284.6h0M785.4 279.6h0M786.3 273.1h0M787.1 244.2h0M788.0 228.2h0M788.8 240.1h0M789.7 270.8h0M790.5 262.1h0M791.4 237.0h0M792.2 246.3h0M793.1 243.0h0M794.0 238.5h0M794.8 240.1h0M795.7 220.1h0M796.5 260.9h0M797.4 263.8h0M798.2 246.3h0M799.1 207.0h0M799.9 209.8h0M800.8 221.8h0M801.6 194.0h0M802.5 203.9h0M803.3 207.6h0M804.2 203.9h0M805.1 192.3h0M805.9 172.0h0M806.8 167.4h0M807.6 173.0h0M808.5 137.2h0M809.3 133.0h0M810.2 112.9h0M811.0 119.0h0M811.9 132.2h0M812.7 134.3h0M813.6 127.1h0M814.4 117.0h0M815.3 128.7h0M816.2 130.4h0M817.0 125.0h0M817.9 116.6h0M818.7 114.7h0M819.6 120.1h0M820.4 124.0h0M821.3 100.9h0M822.1 90.6h0M823.0 115.5h0M823.8 119.5h0M824.7 116.4h0M825.5 118.6h0M826.4 117.0h0M827.3 128.3h0M828.1 146.2h0M829.0 152.2h0M829.8 142.5h0M830.7 135.1h0M831.5 126.7h0M832.4 124.2h0M833.2 105.9h0M834.1 119.0h0M834.9 125.0h0M835.8 139.4h0M836.7 157.8h0M837.5 160.0h0M838.4 153.6h0M839.2 164.1h0M840.1 143.3h0M840.9 138.8h0M841.8 125.8h0M842.6 155.3h0M843.5 108.7h0M844.3 112.0h0M845.2 116.2h0M846.0 103.8h0M846.9 105.7h0M847.8 109.0h0M848.6 113.1h0M849.5 118.2h0M850.3 121.9h0M851.2 114.3h0M852.0 113.9h0M852.9 133.5h0M853.7 144.2h0M854.6 159.0h0M855.4 177.7h0M856.3 194.2h0M857.1 203.3h0M858.0 221.0h0M858.9 217.9h0M859.7 214.0h0M860.6 208.2h0M861.4 208.0h0M862.3 203.9h0M863.1 229.0h0M864.0 247.1h0M864.8 260.1h0M865.7 272.0h0M866.5 281.1h0M867.4 302.3h0M868.2 323.3h0M869.1 341.4h0M870.0 352.3h0M870.8 356.2h0M871.7 367.2h0M872.5 384.4h0M873.4 386.1h0M874.2 390.0h0M875.1 404.4h0M875.9 409.0h0M876.8 410.2h0M877.6 418.0h0M878.5 430.0h0M879.4 438.0h0M880.2 457.1h0" fill="none" stroke="#000" stroke-width="3.3" stroke-linecap="round"/>
<text class="b" y="672.3"><tspan x="54.34" textLength="72.70" lengthAdjust="spacingAndGlyphs">Source:</tspan> <tspan x="131.72" textLength="71.58" lengthAdjust="spacingAndGlyphs">Federal</tspan> <tspan x="207.72" textLength="75.04" lengthAdjust="spacingAndGlyphs">Reserve</tspan></text><text class="b" y="672.3"><tspan x="672.12" textLength="182.78" lengthAdjust="spacingAndGlyphs">WOLFSTREET.com</tspan></text>
</svg>
</body></html>
